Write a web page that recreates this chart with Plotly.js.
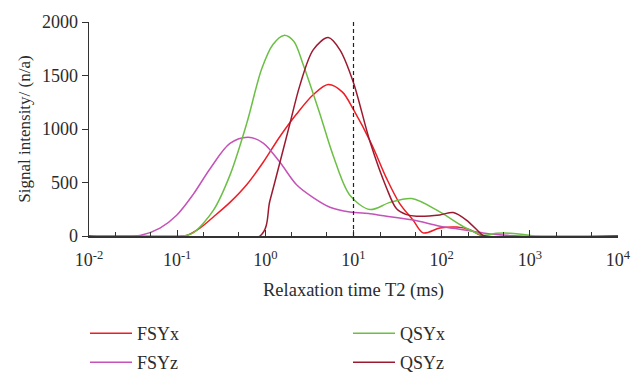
<!DOCTYPE html>
<html>
<head>
<meta charset="utf-8">
<script src="https://cdn.plot.ly/plotly-3.0.1.min.js"></script>
<style>html,body{margin:0;padding:0;background:#fff;}#chart{width:643px;height:377px;}</style>
</head>
<body>
<div id="chart"></div>
<script>
// Relaxation time T2 (ms) and signal intensity for each sample
const fsyxT2 = [0.01, 0.116, 0.128, 0.181, 0.257, 0.397, 0.614, 0.946, 1.465, 2.26, 3.49, 5.17, 7.5, 9.93, 16.0, 23.7, 33.6, 47.3, 61.7, 95.4, 148, 209, 295, 10000];
const fsyxVal = [0, 0, 5, 74, 178, 314, 479, 689, 930, 1140, 1320, 1416, 1345, 1185, 860, 539, 300, 149, 29, 74, 83, 59, 0, 0];

const qsyxT2 = [0.01, 0.116, 0.152, 0.257, 0.397, 0.614, 0.908, 1.22, 1.625, 2.1, 2.69, 4.16, 5.89, 9.1, 15.4, 25.9, 45.9, 95.4, 175, 295, 420, 600, 850, 1100, 10000];
const qsyxVal = [0, 0, 29, 239, 569, 1050, 1560, 1790, 1875, 1820, 1600, 1140, 750, 380, 247, 314, 350, 225, 89, 8, 25, 26, 15, 0, 0];

const fsyzT2 = [0.01, 0.029, 0.0379, 0.0638, 0.0987, 0.152, 0.236, 0.397, 0.640, 0.946, 1.465, 2.26, 3.49, 5.40, 9.1, 15.4, 19.9, 47.5, 95.4, 175, 295, 419, 771, 10000];
const fsyzVal = [0, 0, 5, 74, 194, 389, 629, 865, 923, 869, 689, 479, 359, 269, 224, 209, 194, 149, 92, 59, 29, 14, 0, 0];

const qsyzT2 = [0.01, 0.869, 1.127, 1.465, 1.90, 2.47, 3.49, 5.17, 7.01, 9.93, 15.4, 23.7, 30.8, 40.0, 51.9, 95.4, 135, 191, 271, 295, 10000];
const qsyzVal = [0, 0, 329, 689, 1050, 1410, 1740, 1854, 1740, 1440, 880, 449, 254, 200, 185, 197, 220, 149, 30, 5, 0];

const seriesNames = ['FSYx', 'FSYz', 'QSYx', 'QSYz'];
const seriesColors = ['#ee1d25', '#c552b8', '#6cbf45', '#9c1a30'];
const cutoffT2 = 10;
const yTicks = [0, 500, 1000, 1500, 2000];
const xTickVals = [0.01, 0.1, 1, 10, 100, 1000, 10000];
const xTickText = ['10<sup>-2</sup>', '10<sup>-1</sup>', '10<sup>0</sup>', '10<sup>1</sup>', '10<sup>2</sup>', '10<sup>3</sup>', '10<sup>4</sup>'];

const FONT = '"Liberation Serif", "Times New Roman", serif';
const TXT = '#2b2b2b';

const xs = [fsyxT2, fsyzT2, qsyxT2, qsyzT2];
const ys = [fsyxVal, fsyzVal, qsyxVal, qsyzVal];
const legendIds = ['legend', 'legend2', 'legend3', 'legend4'];
// legend item slots (container fractions): column, row
const legendX = [85 / 643, 85 / 643, 348 / 643, 348 / 643];
const legendY = [1 - 315 / 377, 1 - 344 / 377, 1 - 315 / 377, 1 - 344 / 377];

const traces = seriesNames.map((n, i) => ({
  x: xs[i], y: ys[i], name: n, type: 'scatter', mode: 'lines',
  legend: legendIds[i],
  line: {color: seriesColors[i], width: 1.5, shape: 'spline', smoothing: 0.9}
}));

const layout = {
  width: 643, height: 377,
  margin: {l: 89, r: 25, t: 14, b: 141},
  paper_bgcolor: '#fff', plot_bgcolor: '#fff',
  font: {family: FONT, size: 18, color: TXT},
  showlegend: true,
  xaxis: {
    type: 'log', range: [-2, 4],
    tickvals: xTickVals, ticktext: xTickText, tickangle: 0,
    showline: true, linecolor: '#333', linewidth: 1.5,
    ticks: 'inside', ticklen: 6, tickcolor: '#333', tickwidth: 1,
    minor: {ticks: 'inside', ticklen: 4, tickcolor: '#333', tickwidth: 1, showgrid: false},
    showgrid: false, zeroline: false,
    ticklabelstandoff: 7,
    tickfont: {family: FONT, size: 18, color: TXT},
    title: {text: 'Relaxation time T2 (ms)', font: {family: FONT, size: 18.5, color: TXT}, standoff: 14},
    automargin: true
  },
  yaxis: {
    range: [0, 2000], tickvals: yTicks,
    showline: true, linecolor: '#333', linewidth: 1.5,
    ticks: 'outside', ticklen: 6, tickcolor: '#333', tickwidth: 1,
    showgrid: false, zeroline: false,
    tickfont: {family: FONT, size: 18, color: TXT},
    title: {text: 'Signal intensity/ (n/a)', font: {family: FONT, size: 17, color: TXT}, standoff: 7},
    automargin: true
  },
  shapes: [{
    type: 'line', xref: 'x', yref: 'paper', x0: cutoffT2, x1: cutoffT2, y0: 0, y1: 1,
    line: {color: '#222', width: 1.2, dash: '4px,3px'}
  }]
};

legendIds.forEach((id, i) => {
  layout[id] = {
    orientation: 'h', xref: 'container', yref: 'container',
    x: legendX[i], y: legendY[i], xanchor: 'left', yanchor: 'top',
    itemwidth: 42,
    font: {family: FONT, size: 18, color: TXT},
    bgcolor: 'rgba(0,0,0,0)'
  };
});

Plotly.newPlot('chart', traces, layout, {displayModeBar: false, staticPlot: true});
</script>
</body>
</html>
